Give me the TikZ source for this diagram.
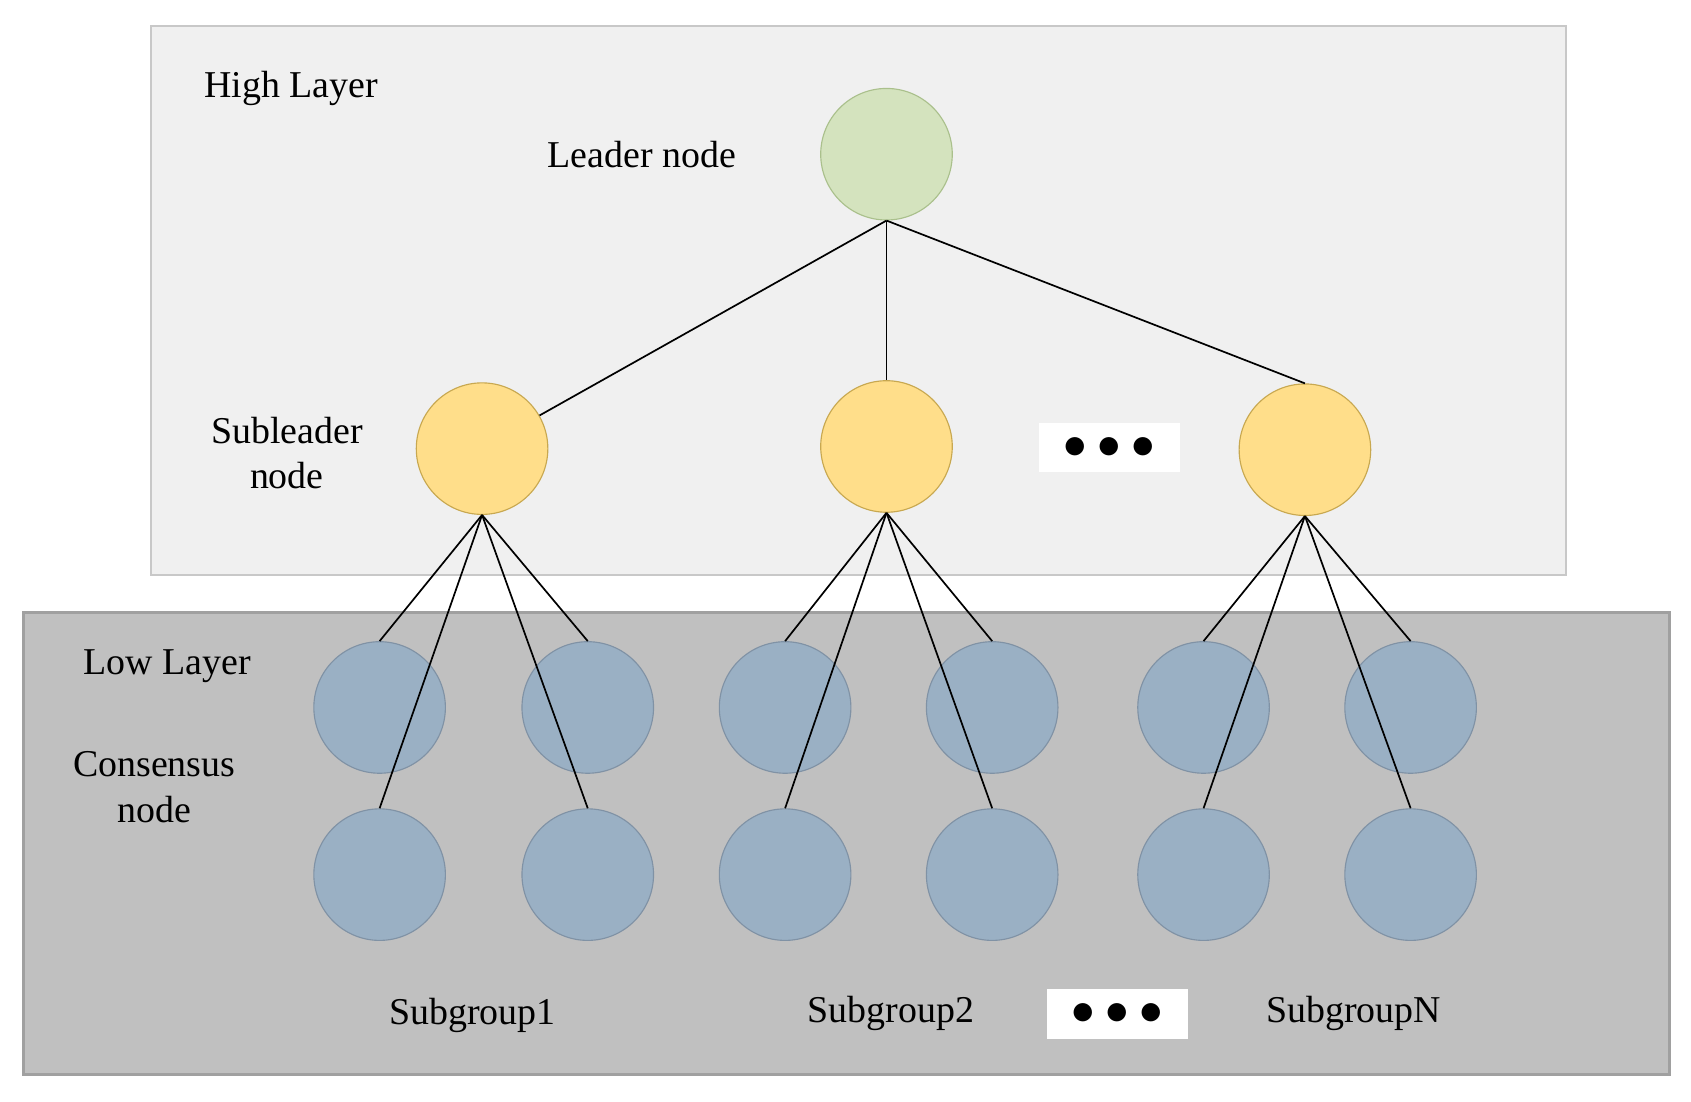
\documentclass[tikz,border=0pt]{standalone}
\usepackage{fontspec}
\setmainfont{Liberation Serif}
\begin{document}
\begin{tikzpicture}[x=0.02cm,y=-0.02cm,
  nd/.style={circle,minimum size=2.44cm,inner sep=0pt,line width=0.6pt},
  blue/.style={nd,fill={rgb,255:red,154;green,176;blue,196},draw={rgb,255:red,128;green,146;blue,165}},
  sub/.style={nd,fill={rgb,255:red,255;green,222;blue,138},draw={rgb,255:red,200;green,168;blue,80}},
  lead/.style={nd,fill={rgb,255:red,212;green,227;blue,190},draw={rgb,255:red,170;green,192;blue,140}},
  lbl/.style={font=\fontsize{20}{24}\selectfont,align=center},
  ln/.style={line width=0.9pt},
  dotbox/.style={fill=white,minimum width=2.62cm,minimum height=0.92cm,font=\fontsize{26}{26}\selectfont}]
\useasboundingbox (0,0) rectangle (1568,1021);
\fill[white] (0,0) rectangle (1568,1021);
\filldraw[fill={rgb,255:red,240;green,240;blue,240},draw={rgb,255:red,200;green,200;blue,200},line width=1pt] (140,24) rectangle (1452,533);
\filldraw[fill={rgb,255:red,192;green,192;blue,192},draw={rgb,255:red,160;green,160;blue,160},line width=1.5pt] (22,568) rectangle (1548,996);
\node[lead] (L) at (822,143) {};
\node[sub] (s1) at (447,416) {};
\node[sub] (s2) at (822,414) {};
\node[sub] (s3) at (1210,417) {};
\node[dotbox] (d1) at (1029,415) {$\bullet\bullet\bullet$};
\node[dotbox] (d2) at (1036,940) {$\bullet\bullet\bullet$};
\foreach \g/\a/\b in {1/352/545,2/728/920,3/1116/1308}{
  \node[blue] (t\g a) at (\a,656) {};
  \node[blue] (t\g b) at (\b,656) {};
  \node[blue] (b\g a) at (\a,811) {};
  \node[blue] (b\g b) at (\b,811) {};
}
\draw[ln] (L.south) -- (s1.30);
\draw[ln] (L.south) -- (s2.north);
\draw[ln] (L.south) -- (s3.north);
\foreach \g in {1,2,3}{
  \draw[ln] (s\g.south) -- (t\g a.north);
  \draw[ln] (s\g.south) -- (t\g b.north);
  \draw[ln] (s\g.south) -- (b\g a.north);
  \draw[ln] (s\g.south) -- (b\g b.north);
}
\node[lbl] (hl) at (270,82) {High Layer};
\node[lbl] (ldn) at (595,143) {Leader node};
\node[lbl] (sln) at (266,420) {Subleader\\node};
\node[lbl] (ll) at (155,618) {Low Layer};
\node[lbl] (cn) at (143,730) {Consensus\\node};
\node[lbl] (g1) at (438,942) {Subgroup1};
\node[lbl] (g2) at (826,940) {Subgroup2};
\node[lbl] (gN) at (1255,940) {SubgroupN};
\end{tikzpicture}
\end{document}
